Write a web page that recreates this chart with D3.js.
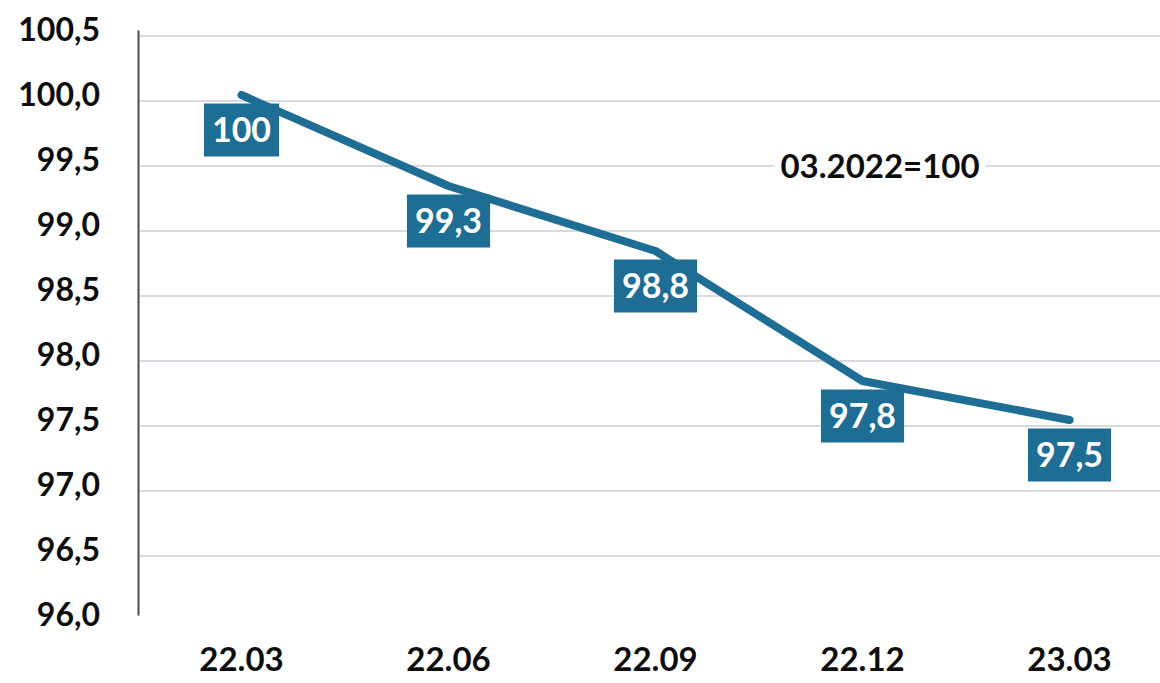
<!DOCTYPE html>
<html>
<head>
<meta charset="utf-8">
<script src="https://cdn.jsdelivr.net/npm/d3@7/dist/d3.min.js"></script>
<style>
  html, body { margin: 0; padding: 0; background: #fff; }
  svg { display: block; }
  text { font-family: Lato, "Open Sans", sans-serif; }
</style>
</head>
<body>
<svg id="chart" width="1160" height="683"></svg>
<script>
const categories = ["22.03", "22.06", "22.09", "22.12", "23.03"];
const values = [100, 99.3, 98.8, 97.8, 97.5];
const valueLabels = ["100", "99,3", "98,8", "97,8", "97,5"];
const yTicks = [96.0, 96.5, 97.0, 97.5, 98.0, 98.5, 99.0, 99.5, 100.0, 100.5];
const baseNote = "03.2022=100";

const svg = d3.select("#chart");
const W = 1160, H = 683;
const plotLeft = 138, bandW = 207;
const mainColor = "#1e6d94";

const x = d3.scaleBand().domain(categories).range([plotLeft, plotLeft + bandW * categories.length]).padding(0);
const y = d3.scaleLinear().domain([96, 100.5]).range([615, 30]);
const cx = c => x(c) + x.bandwidth() / 2;

// gridlines (slightly offset as in the reference)
svg.append("g").attr("transform", "translate(0,6)")
  .selectAll("line").data(yTicks.filter(t => t > 96)).join("line")
  .attr("x1", plotLeft + 2).attr("x2", W)
  .attr("y1", d => y(d)).attr("y2", d => y(d))
  .attr("stroke", "#d9d9e2").attr("stroke-width", 2);

// y axis
const yAxis = d3.axisLeft(y).tickValues(yTicks).tickSize(0).tickPadding(38)
  .tickFormat(d => d3.format(".1f")(d).replace(".", ","));
const gy = svg.append("g").attr("transform", `translate(${plotLeft},0)`).call(yAxis);
gy.select(".domain").attr("stroke", "#4a4a4a").attr("stroke-width", 2);
gy.selectAll("text").attr("font-size", 32).attr("font-weight", "bold").attr("fill", "#0d0d0d")
  .attr("font-family", "Lato, sans-serif");

// x axis labels
const xAxis = d3.axisBottom(x).tickSize(0).tickPadding(0);
const gx = svg.append("g").attr("transform", `translate(0,648)`).call(xAxis);
gx.select(".domain").remove();
gx.selectAll("text").attr("font-size", 33).attr("font-weight", "bold").attr("fill", "#0d0d0d")
  .attr("font-family", "Lato, sans-serif").attr("dy", "0.71em");

// annotation
const note = svg.append("g").attr("transform", `translate(880,${y(99.5) + 6})`);
const noteText = note.append("text").text(baseNote)
  .attr("text-anchor", "middle").attr("dy", "0.36em")
  .attr("font-size", 33).attr("font-weight", "bold").attr("fill", "#0d0d0d");
const nw = noteText.node().getComputedTextLength();
note.insert("rect", "text").attr("x", -nw / 2 - 6).attr("y", -16).attr("width", nw + 12).attr("height", 32).attr("fill", "#fff");

// line
const line = d3.line().x((d, i) => cx(categories[i])).y(d => y(d));
svg.append("path").datum(values).attr("d", line)
  .attr("fill", "none").attr("stroke", mainColor).attr("stroke-width", 8)
  .attr("stroke-linejoin", "round").attr("stroke-linecap", "round");

// data labels
const lbl = svg.append("g").selectAll("g").data(values).join("g")
  .attr("transform", (d, i) => `translate(${cx(categories[i])},${y(d) + 35})`);
lbl.append("text").text((d, i) => valueLabels[i])
  .attr("text-anchor", "middle").attr("dy", "0.36em")
  .attr("font-size", 34).attr("font-weight", "bold").attr("fill", "#fff");
lbl.each(function() {
  const g = d3.select(this);
  const w = g.select("text").node().getComputedTextLength();
  g.insert("rect", "text").attr("x", -w / 2 - 8).attr("y", -26.5).attr("width", w + 16).attr("height", 53).attr("fill", mainColor);
});
</script>
</body>
</html>
